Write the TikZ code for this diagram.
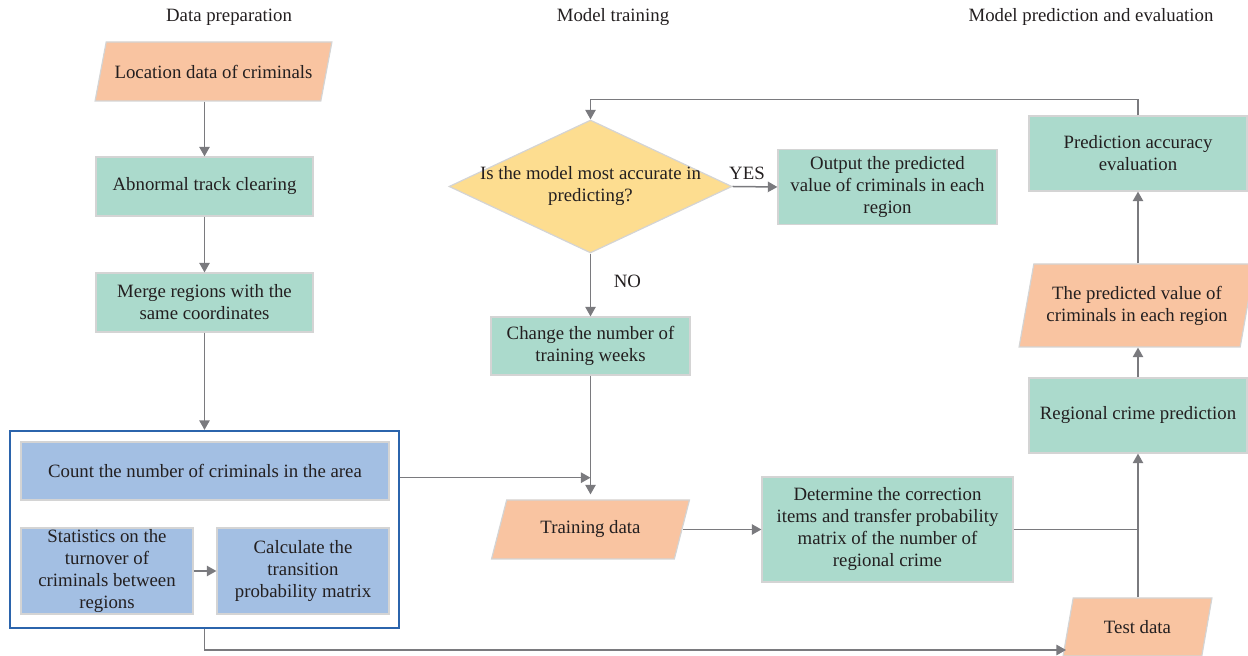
\documentclass[tikz,border=0pt]{standalone}
\usepackage{fontspec}
\setmainfont{Liberation Serif}
\usepackage{xcolor}
\usepackage{tikz}
\usetikzlibrary{calc, shapes.geometric, positioning, arrows.meta}

\definecolor{tealbox}{HTML}{ABDACC}
\definecolor{orangebox}{HTML}{F9C4A1}
\definecolor{yellowbox}{HTML}{FDDD90}
\definecolor{bluebox}{HTML}{A3BFE3}
\definecolor{edgegray}{HTML}{D4D4D4}
\definecolor{linegray}{HTML}{7A7A7E}
\definecolor{frameblue}{HTML}{2B64AC}
\definecolor{inkgray}{HTML}{231F20}

\begin{document}
\begin{tikzpicture}[x=0.5pt, y=-0.5pt,
    >={Triangle[length=4.8pt, width=5.2pt]},
    font=\fontsize{9.4}{11}\selectfont, text=inkgray,
    base/.style={draw=edgegray, line width=0.6pt, align=center, inner sep=1pt},
    procbox/.style={base, rectangle, fill=tealbox},
    areabox/.style={base, rectangle, fill=bluebox},
    iobox/.style={base, trapezium, trapezium stretches=true, fill=orangebox},
    decision/.style={base, diamond, fill=yellowbox, inner sep=0pt},
    frame/.style={draw=frameblue, line width=1.1pt, rectangle, inner sep=0pt},
    flow/.style={->, draw=linegray, line width=0.75pt}]
    \useasboundingbox (0,0) rectangle (1248,656);
    % =================================================================
    % 1. Tieu de ba cot
    % =================================================================
    \node (titleprep) at (229,17) {Data preparation};
    \node (titletrain) at (613,17) {Model training};
    \node (titleeval) at (1091,17) {Model prediction and evaluation};

    % =================================================================
    % 2. Cot trai: chuan bi du lieu
    % =================================================================
    \node[iobox, trapezium left angle=59, trapezium right angle=121,
        minimum width=118.5pt, minimum height=29.5pt] (loc) at (213.5,71.5)
        {Location data of criminals};
    \node[procbox, minimum width=108.5pt, minimum height=29.5pt] (clean) at (204.5,186.5)
        {Abnormal track clearing};
    \node[procbox, minimum width=108.5pt, minimum height=29.5pt] (merge) at (204.5,302.5)
        {Merge regions with the\\same coordinates};
    % Khung xanh bao ba o
    \node[frame, minimum width=194.5pt, minimum height=98.5pt] (area) at (204.5,529.5) {};
    \node[areabox, minimum width=184pt, minimum height=29pt] (count) at (205,471)
        {Count the number of criminals in the area};
    \node[areabox, inner sep=0pt, minimum width=86pt, minimum height=43pt] (stats) at (107,571)
        {Statistics on the\\turnover of\\criminals between\\regions};
    \node[areabox, minimum width=86pt, minimum height=43pt] (calc) at (303,571)
        {Calculate the\\transition\\probability matrix};

    % =================================================================
    % 3. Cot giua: huan luyen mo hinh
    % =================================================================
    \node[decision, minimum width=141.5pt, minimum height=66.5pt] (check) at (590.5,186.5) {};
    \node[align=center] (checktxt) at (check.center)
        {Is the model most accurate in\\predicting?};
    \node[procbox, minimum width=109.5pt, minimum height=37.5pt] (output) at (887.5,187)
        {Output the predicted\\value of criminals in each\\region};
    \node[procbox, minimum width=99.5pt, minimum height=29pt] (change) at (590.5,346)
        {Change the number of\\training weeks};
    \node[iobox, trapezium left angle=66, trapezium right angle=114,
        minimum width=99.5pt, minimum height=29.5pt] (train) at (590.5,529.5)
        {Training data};
    \node[procbox, minimum width=125.5pt, minimum height=52.5pt] (determine) at (887.5,529.5)
        {Determine the correction\\items and transfer probability\\matrix of the number of\\regional crime};

    % =================================================================
    % 4. Cot phai: du bao va danh gia
    % =================================================================
    \node[procbox, minimum width=109pt, minimum height=37.5pt] (accuracy) at (1138,153.5)
        {Prediction accuracy\\evaluation};
    \node[iobox, trapezium left angle=73, trapezium right angle=107,
        minimum width=118pt, minimum height=41.5pt] (predval) at (1137,305.5)
        {The predicted value of\\criminals in each region};
    \node[procbox, minimum width=109pt, minimum height=37.5pt] (regional) at (1138,415.5)
        {Regional crime prediction};
    \node[iobox, trapezium left angle=72, trapezium right angle=108,
        minimum width=74.5pt, minimum height=29pt] (test) at (1137.5,627)
        {Test data};

    % Cac diem noi
    \coordinate (join) at (590.5,477.7);
    \coordinate (testin) at (1066,650);

    % =================================================================
    % 5. Mui ten
    % =================================================================
    \draw[flow] (clean.north |- loc.south) -- (clean.north);
    \draw[flow] (clean.south) -- (merge.north);
    \draw[flow] (merge.south) -- (area.north);
    \draw[flow] (stats.east) -- (calc.west);
    \draw[flow] (join -| area.east) -- (join);
    \draw[flow, shorten >=2.5pt] (change.south) -- (change.south |- train.north);
    \draw[flow] (train.east) -- (determine.west);
    \draw[draw=linegray, line width=0.75pt] (determine.east) -- (determine.east -| regional.south);
    \draw[flow] (area.south) |- (testin);
    \draw[flow] (regional.south |- test.north) -- (regional.south);
    \draw[flow] (regional.north) -- (regional.north |- predval.south);
    \draw[flow] (accuracy.south |- predval.north) -- (accuracy.south);
    \draw[flow] (accuracy.north) -- ++(0,-16) -| (check.north);
    \draw[flow] (check.east) -- node[above, xshift=-4pt] {YES} (output.west);
    \draw[flow] (check.south) -- node[right=8pt, pos=0.45] {NO} (change.north);
\end{tikzpicture}
\end{document}
